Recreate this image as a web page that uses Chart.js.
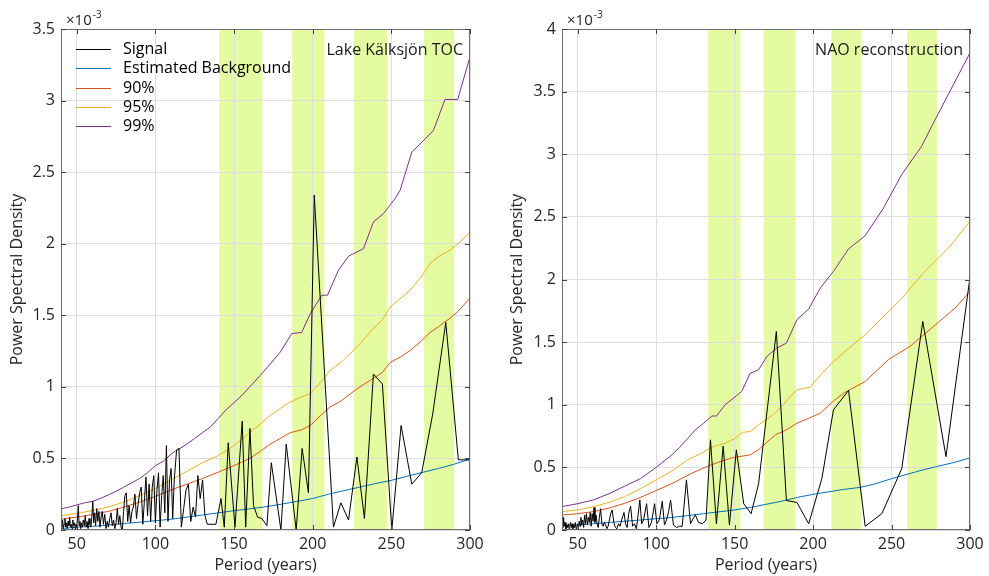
<!DOCTYPE html>
<html>
<head>
<meta charset="utf-8">
<script src="https://cdn.jsdelivr.net/npm/chart.js@4.4.0/dist/chart.umd.min.js"></script>
<style>
html, body { margin: 0; padding: 0; background: #fff; }
#wrap { position: relative; width: 989px; height: 576px; }
canvas { position: absolute; top: 0; }
</style>
</head>
<body>
<div id="wrap">
  <canvas id="left" width="490" height="576" style="left:0"></canvas>
  <canvas id="right" width="499" height="576" style="left:490px"></canvas>
</div>
<script>
// all PSD values are in units of 1e-3 (axis shows x10^-3)
var seriesNames = ['Signal', 'Estimated Background', '90%', '95%', '99%'];
var seriesColors = ['#000000', '#0072BD', '#D95319', '#EDB120', '#7E2F8E'];
var bandColor = '#e5fba2';

var xTicks = [50, 100, 150, 200, 250, 300];
var leftYTicks = [0, 0.5, 1, 1.5, 2, 2.5, 3, 3.5];
var rightYTicks = [0, 0.5, 1, 1.5, 2, 2.5, 3, 3.5, 4];

// Lake Kälksjön TOC  [period, psd]
var tocSignal = [
  [40,0.05],[40.5,0.02],[41,0.07],[41.5,0.01],[42,0.04],[42.5,0.08],[43,0.02],[43.5,0.05],[44,0.01],[44.5,0.06],
  [45,0.03],[45.5,0.09],[46,0.02],[46.5,0.04],[47,0.01],[47.5,0.07],[48,0.03],[48.5,0.05],[49,0.01],[49.5,0.04],
  [50,0.02],[50.5,0.08],[51,0.17],[51.5,0.03],[52,0.06],[52.5,0.01],[53,0.05],[53.6,0.02],[54.2,0.07],[54.8,0.03],
  [55.4,0.1],[56,0.02],[56.6,0.06],[57.2,0.01],[57.8,0.08],[58.4,0.04],[59,0.02],[59.6,0.09],[60.2,0.2],[60.8,0.05],
  [61.4,0.12],[62,0.03],[62.7,0.15],[63.4,0.06],[64.1,0.13],[64.8,0.02],[65.5,0.09],[66.2,0.13],[67,0.04],[67.8,0.11],
  [68.6,0.01],[69.4,0.06],[70.2,0.02],[71,0.08],[71.8,0.12],[72.6,0.03],[73.4,0.07],[74.2,0.01],[75,0.05],[75.8,0.15],
  [76.6,0.04],[77.4,0.1],[78.2,0.02],[79,0.0],[79.8,0.13],[80.6,0.24],[81.5,0.26],[82.4,0.06],[83.3,0.17],[84.2,0.05],
  [85.1,0.13],[86,0.16],[87,0.25],[88,0.08],[89,0.18],[90,0.26],[91,0.3],[92,0.04],[93,0.2],[94,0.37],
  [95,0.1],[96,0.32],[97,0.06],[98,0.3],[99,0.38],[100,0.05],[101,0.28],[102,0.4],[103,0.02],[104,0.24],
  [105,0.38],[106,0.12],[107,0.59],[108,0.06],[109,0.35],[110,0.43],[111,0.08],[112,0.35],[113.5,0.56],[115,0.57],
  [116.5,0.02],[118,0.15],[119.5,0.28],[121,0.32],[122.5,0.06],[124,0.16],[125.5,0.09],[127,0.38],[128.5,0.22],[130,0.35],
  [131.5,0.1],[133,0.04],[136,0.04],[138.5,0.04],[141.7,0.22],[143.8,0.02],[146.3,0.61],[150.6,0.02],[155.2,0.76],[157.4,0.02],
  [160.1,0.71],[162.4,0.17],[165,0.09],[167.7,0.08],[170.9,0.03],[173.7,0.47],[179.8,0.0],[183.2,0.6],[189.5,0.0],[193.3,0.57],
  [197.3,0.26],[201,2.34],[213.2,0.02],[217.9,0.19],[222.8,0.07],[228.1,0.51],[232.9,0.08],[238.6,1.09],[244.3,1.02],[250.3,0.0],
  [256.2,0.73],[263,0.32],[269.3,0.4],[276.3,0.81],[284.6,1.45],[292.6,0.49],[300,0.49]
];
var tocBackground = [
  [40,0.01],[50,0.02],[60,0.025],[70,0.035],[80,0.045],[90,0.055],[100,0.065],[110,0.075],[120,0.09],[130,0.105],
  [140,0.12],[150,0.135],[160,0.148],[170,0.162],[180,0.18],[190,0.2],[200,0.22],[210,0.25],[220,0.275],[230,0.3],
  [240,0.325],[250,0.347],[260,0.375],[270,0.403],[280,0.43],[290,0.46],[300,0.495]
];
var toc90 = [
  [40,0.075],[50,0.09],[60,0.108],[70,0.13],[80,0.16],[90,0.195],[100,0.235],[110,0.28],[120,0.32],[130,0.36],
  [140,0.404],[150,0.45],[160,0.5],[166.7,0.55],[173,0.6],[179.4,0.64],[185.7,0.68],[193,0.7],[198.4,0.73],[205,0.8],
  [211,0.86],[217.9,0.9],[223.8,0.95],[230,1.0],[236.5,1.045],[244.3,1.1],[249.2,1.17],[256,1.21],[262,1.255],[269,1.32],
  [274.6,1.38],[280,1.42],[287.3,1.48],[292.6,1.53],[300,1.62]
];
var toc95 = [
  [40,0.1],[50,0.115],[60,0.136],[70,0.16],[80,0.195],[90,0.24],[100,0.29],[110,0.35],[120,0.41],[130,0.47],
  [140,0.52],[150,0.59],[160,0.68],[166.7,0.74],[173,0.8],[179.4,0.85],[185.7,0.894],[193,0.93],[198.4,0.952],[205,1.03],
  [211,1.115],[217.9,1.17],[223.8,1.232],[230,1.3],[236.5,1.383],[244.3,1.47],[249.2,1.558],[256,1.62],[262,1.675],[269,1.77],
  [274.6,1.86],[280,1.91],[287.3,1.955],[292.6,2.0],[300,2.08]
];
var toc99 = [
  [40,0.148],[45,0.16],[50,0.175],[55,0.19],[60,0.2],[65,0.22],[70,0.245],[75,0.27],[80,0.3],[85,0.33],
  [90,0.36],[95,0.4],[100,0.45],[105,0.48],[110,0.53],[112.5,0.55],[115,0.565],[120,0.6],[125,0.64],[130,0.68],
  [135,0.72],[140,0.78],[145,0.84],[150,0.89],[155,0.94],[160,1.0],[166.7,1.08],[173,1.16],[179.4,1.243],[186.7,1.372],
  [193,1.38],[198.4,1.51],[205.8,1.64],[209.4,1.64],[216.4,1.815],[222.8,1.913],[232.3,1.966],[238.6,2.152],[245,2.21],[252.4,2.316],
  [255.6,2.374],[263,2.64],[276.7,2.79],[284.1,3.008],[292.2,3.008],[300,3.306]
];
var tocBands = [[140.6, 168], [187, 207.5], [226.3, 247.3], [270.8, 290]];

// NAO reconstruction  [period, psd]
var naoSignal = [
  [40,0.08],[40.5,0.02],[41,0.1],[41.5,0.03],[42,0.06],[42.5,0.01],[43,0.04],[43.5,0.02],[44,0.05],[44.5,0.01],
  [45,0.03],[45.5,0.06],[46,0.02],[46.5,0.05],[47,0.01],[47.5,0.04],[48,0.02],[48.5,0.06],[49,0.01],[49.5,0.03],
  [50,0.05],[50.5,0.02],[51,0.07],[51.5,0.03],[52,0.1],[52.6,0.04],[53.2,0.08],[53.8,0.02],[54.4,0.12],[55,0.05],
  [55.6,0.13],[56.2,0.04],[56.8,0.1],[57.4,0.06],[58,0.14],[58.6,0.03],[59.2,0.13],[59.8,0.07],[60.4,0.18],[61,0.06],
  [61.7,0.12],[62.4,0.05],[63.1,0.02],[63.8,0.1],[64.6,0.17],[65.4,0.05],[66.2,0.03],[67,0.06],[67.8,0.04],[68.6,0.01],
  [69.4,0.03],[70.2,0.08],[71,0.13],[72,0.16],[73,0.06],[74,0.02],[75,0.01],[76,0.05],[77,0.03],[78,0.08],
  [79.5,0.14],[80.5,0.05],[81.5,0.02],[82.5,0.13],[83.7,0.19],[85,0.03],[86.2,0.05],[87.4,0.01],[88.5,0.12],[89.6,0.24],
  [90.8,0.05],[92,0.08],[93.9,0.21],[95.4,0.02],[97,0.06],[99,0.21],[100.5,0.05],[102,0.08],[103.9,0.23],[105.3,0.04],
  [106.6,0.08],[108,0.15],[109.2,0.24],[111,0.04],[113,0.02],[115,0.03],[116.6,0.03],[119.3,0.4],[121.9,0.05],[123.5,0.09],
  [125,0.12],[127,0.06],[129.5,0.05],[131.8,0.08],[134.6,0.72],[138.4,0.05],[142.7,0.67],[146.7,0.04],[151.1,0.64],[155.8,0.21],
  [160.5,0.13],[165.3,0.37],[176.6,1.585],[183,0.235],[189.7,0.22],[197.2,0.05],[205.6,0.41],[213,0.96],[222.6,1.114],[233.2,0.03],
  [243.8,0.13],[256.5,0.49],[269.9,1.665],[284.7,0.586],[300,2.02]
];
var naoBackground = [
  [40,0.035],[50,0.04],[60,0.05],[70,0.06],[80,0.07],[90,0.08],[100,0.09],[110,0.1],[120,0.115],[130,0.13],
  [140,0.145],[150,0.16],[160,0.18],[170,0.205],[180,0.23],[190,0.26],[200,0.285],[210,0.305],[220,0.325],[230,0.34],
  [240,0.37],[250,0.41],[260,0.445],[270,0.48],[280,0.51],[290,0.54],[300,0.575]
];
var nao90 = [
  [40,0.12],[50,0.13],[60,0.147],[70,0.175],[80,0.213],[90,0.26],[100,0.315],[110,0.37],[122.7,0.453],[133,0.51],
  [143.9,0.56],[150,0.58],[160,0.6],[165.1,0.64],[176,0.76],[183,0.8],[189.7,0.853],[197,0.89],[204.6,0.933],[213,1.03],
  [219.4,1.092],[233.2,1.186],[248,1.36],[261.8,1.466],[276.7,1.625],[290.5,1.772],[300,1.905]
];
var nao95 = [
  [40,0.147],[50,0.16],[60,0.187],[70,0.22],[80,0.267],[90,0.33],[100,0.4],[110,0.47],[120,0.56],[130,0.62],
  [135,0.66],[144,0.693],[150,0.73],[155,0.78],[160,0.786],[165.3,0.84],[176,0.933],[183,1.03],[189.7,1.12],[198.2,1.14],
  [205.6,1.25],[213,1.346],[222.6,1.45],[233.2,1.559],[247,1.732],[257.6,1.865],[270.3,2.052],[287.3,2.265],[300,2.465]
];
var nao99 = [
  [40,0.187],[50,0.21],[60,0.24],[70,0.29],[80,0.35],[90,0.41],[100,0.5],[105,0.55],[110,0.6],[115,0.66],
  [120,0.73],[125,0.8],[130,0.85],[135.5,0.91],[138.5,0.91],[143.9,1.0],[149,1.05],[154.5,1.106],[159.8,1.25],[165.3,1.28],
  [170.6,1.386],[176.6,1.45],[183,1.492],[189.7,1.679],[197.2,1.764],[204.6,1.932],[213,2.065],[222.6,2.244],[233.2,2.35],[244.9,2.571],
  [256.5,2.838],[269.2,3.064],[276.7,3.25],[300,3.81]
];
var naoBands = [[133.2, 153.8], [168.7, 188.9], [211.6, 230.7], [260, 279]];

var fontFam = '"Open Sans", "DejaVu Sans", sans-serif';
var textCol = '#262626';

function toXY(arr) {
  return arr.map(function (p) { return {x: p[0], y: p[1]}; });
}

function decor(bands, title, withLegend) {
  return {
    id: 'decor',
    beforeDraw: function (chart) {
      var ctx = chart.ctx, a = chart.chartArea, x = chart.scales.x;
      ctx.save();
      ctx.fillStyle = bandColor;
      bands.forEach(function (b) {
        var x0 = x.getPixelForValue(b[0]), x1 = x.getPixelForValue(b[1]);
        ctx.fillRect(x0, a.top, x1 - x0, a.bottom - a.top);
      });
      ctx.restore();
    },
    afterDraw: function (chart) {
      var ctx = chart.ctx, a = chart.chartArea, x = chart.scales.x, y = chart.scales.y;
      ctx.save();
      // box
      ctx.strokeStyle = '#6e6e6e';
      ctx.lineWidth = 1;
      ctx.strokeRect(Math.round(a.left) + 0.5, Math.round(a.top) + 0.5,
        Math.round(a.right - a.left) - 1, Math.round(a.bottom - a.top) - 1);
      // inward ticks
      ctx.strokeStyle = '#444';
      ctx.beginPath();
      x.ticks.forEach(function (t) {
        var px = Math.round(x.getPixelForValue(t.value)) + 0.5;
        ctx.moveTo(px, a.bottom); ctx.lineTo(px, a.bottom - 5);
        ctx.moveTo(px, a.top); ctx.lineTo(px, a.top + 5);
      });
      y.ticks.forEach(function (t) {
        var py = Math.round(y.getPixelForValue(t.value)) + 0.5;
        ctx.moveTo(a.left, py); ctx.lineTo(a.left + 5, py);
        ctx.moveTo(a.right, py); ctx.lineTo(a.right - 5, py);
      });
      ctx.stroke();
      // exponent label
      ctx.fillStyle = textCol;
      ctx.textBaseline = 'alphabetic';
      ctx.textAlign = 'left';
      ctx.font = '15px ' + fontFam;
      ctx.fillText('\u00d710', a.left + 5, a.top - 4);
      var w = ctx.measureText('\u00d710').width;
      ctx.font = '10px ' + fontFam;
      ctx.fillText('-3', a.left + 5 + w + 1, a.top - 11);
      // panel title
      ctx.font = '16px ' + fontFam;
      ctx.textAlign = 'right';
      ctx.textBaseline = 'middle';
      ctx.fillStyle = '#1a1a1a';
      ctx.fillText(title, a.right - 7, a.top + 21);
      // legend
      if (withLegend) {
        ctx.textAlign = 'left';
        chart.data.datasets.forEach(function (ds, i) {
          var ry = Math.round(a.top + 20 + i * 19.3) + 0.5;
          ctx.strokeStyle = ds.borderColor;
          ctx.lineWidth = 1;
          ctx.beginPath();
          ctx.moveTo(a.left + 15, ry);
          ctx.lineTo(a.left + 50, ry);
          ctx.stroke();
          ctx.fillStyle = '#000';
          ctx.fillText(ds.label, a.left + 62, ry);
        });
      }
      ctx.restore();
    }
  };
}

function makePanel(id, series, bands, yTicks, title, withLegend, yWidth, yTitlePad, rightPad) {
  var datasets = series.map(function (s, i) {
    return {
      label: seriesNames[i],
      data: toXY(s),
      borderColor: seriesColors[i],
      borderWidth: 1,
      pointRadius: 0,
      tension: 0,
      fill: false,
      order: i === 0 ? 0 : 5 - i
    };
  });

  return new Chart(document.getElementById(id), {
    type: 'line',
    data: { datasets: datasets },
    plugins: [decor(bands, title, withLegend)],
    options: {
      responsive: false,
      animation: false,
      devicePixelRatio: 1,
      layout: { padding: { top: 29, right: rightPad, bottom: 0, left: 0 } },
      plugins: { legend: { display: false }, tooltip: { enabled: false } },
      scales: {
        x: {
          type: 'linear',
          min: 40,
          max: 300,
          afterBuildTicks: function (s) { s.ticks = xTicks.map(function (v) { return {value: v}; }); },
          afterFit: function (s) { s.height = 46; },
          grid: { color: '#dedede', drawTicks: false },
          border: { display: false },
          ticks: { padding: 5, color: textCol, font: { family: fontFam, size: 16 }, maxRotation: 0 },
          title: { display: true, text: 'Period (years)', color: textCol,
                   font: { family: fontFam, size: 16 }, padding: { top: 0, bottom: 1 } }
        },
        y: {
          min: 0,
          max: yTicks[yTicks.length - 1],
          afterBuildTicks: function (s) { s.ticks = yTicks.map(function (v) { return {value: v}; }); },
          afterFit: function (s) { s.width = yWidth; },
          grid: { color: '#dedede', drawTicks: false },
          border: { display: false },
          ticks: { padding: 6, color: textCol, font: { family: fontFam, size: 16 },
                   callback: function (v) { return String(v); } },
          title: { display: true, text: 'Power Spectral Density', color: textCol,
                   font: { family: fontFam, size: 16 }, padding: { top: yTitlePad, bottom: 0 } }
        }
      }
    }
  });
}

makePanel('left', [tocSignal, tocBackground, toc90, toc95, toc99], tocBands, leftYTicks,
  'Lake K\u00e4lksj\u00f6n TOC', true, 61, 8, 20);
makePanel('right', [naoSignal, naoBackground, nao90, nao95, nao99], naoBands, rightYTicks,
  'NAO reconstruction', false, 72, 18, 19);
</script>
</body>
</html>
